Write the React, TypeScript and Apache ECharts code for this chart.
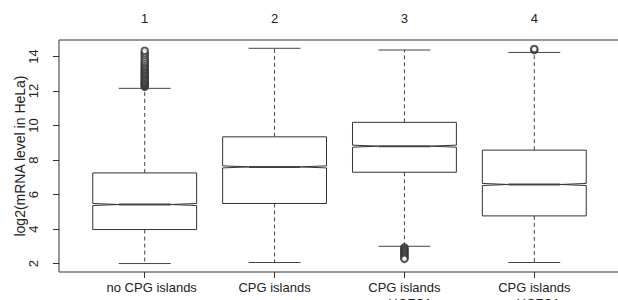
import React, { useEffect, useRef } from "react";
import * as echarts from "echarts";

const categories = ["no CPG islands", "CPG islands", "CPG islands\n+ HCFC1", "CPG islands\n- HCFC1"];
const topLabels = ["1", "2", "3", "4"];
// [lower whisker, Q1, median, Q3, upper whisker]
const box1 = [2.01, 3.98, 5.43, 7.26, 12.16];
const box2 = [2.07, 5.49, 7.61, 9.35, 14.48];
const box3 = [3.01, 7.3, 8.81, 10.19, 14.38];
const box4 = [2.07, 4.77, 6.59, 8.58, 14.24];
const outliers1 = [12.25, 12.3, 12.36, 12.42, 12.48, 12.55, 12.62, 12.7, 12.78, 12.85, 12.93, 13.0, 13.08, 13.16, 13.24, 13.32, 13.41, 13.5, 13.6, 13.7, 13.82, 13.95, 14.08, 14.2, 14.34];
const outliers3 = [2.95, 2.88, 2.8, 2.72, 2.65, 2.58, 2.5, 2.42, 2.35, 2.28];
const outliers4 = [14.38, 14.44];
const yTicks = [2, 4, 6, 8, 10, 12, 14];

const FONT = "'Liberation Sans', Arial, Helvetica, sans-serif";
const LINE = "#333";

export default function App() {
  const ref = useRef<HTMLDivElement>(null);
  useEffect(() => {
    document.body.style.margin = "0";
    const chart = echarts.init(ref.current!, null, { renderer: "svg" });
    const boxes = [box1, box2, box3, box4];
    const boxData = boxes.map((b, i) => [i + 1, ...b]);
    const outData: number[][] = [];
    outliers1.forEach((v) => outData.push([1, v]));
    outliers3.forEach((v) => outData.push([3, v]));
    outliers4.forEach((v) => outData.push([4, v]));
    const hw = 0.4;
    const nw = 0.2;
    const nh = 0.06;
    const capw = 0.2;
    chart.setOption({
      animation: false,
      grid: {
        left: 59, top: 40, right: -2, bottom: 28,
        outerBoundsMode: "none", containLabel: false,
        show: true, borderColor: LINE, borderWidth: 1,
      },
      xAxis: [
        {
          type: "value",
          min: 0.34,
          max: 4.66,
          position: "bottom",
          splitLine: { show: false },
          axisLine: { show: false },
          axisTick: { show: true, length: 6, lineStyle: { color: LINE }, customValues: [1, 2, 3, 4] },
          axisLabel: {
            customValues: [1, 2, 3, 4],
            formatter: (v: number) => {
              const i = Math.round(v) - 1;
              return i === 0 ? "{p|" + categories[0] + "}" : categories[i];
            },
            fontFamily: FONT,
            fontSize: 13,
            color: "#222",
            lineHeight: 16,
            margin: 7,
            verticalAlign: "top",
            rich: {
              p: { fontFamily: FONT, fontSize: 13, color: "#222", lineHeight: 16, padding: [0, 0, 0, 14] },
            },
          },
        },
        {
          type: "value",
          min: 0.34,
          max: 4.66,
          position: "top",
          splitLine: { show: false },
          axisLine: { show: false },
          axisTick: { show: false },
          axisLabel: {
            customValues: [1, 2, 3, 4],
            formatter: (v: number) => topLabels[Math.round(v) - 1],
            fontFamily: FONT,
            fontSize: 13,
            color: "#222",
            margin: 15,
          },
        },
      ],
      yAxis: {
        type: "value",
        min: 1.52,
        max: 14.96,
        splitLine: { show: false },
        axisLine: { show: false },
        axisTick: { show: true, length: 6, lineStyle: { color: LINE }, customValues: yTicks },
        axisLabel: {
          customValues: yTicks,
          rotate: 90,
          fontFamily: FONT,
          fontSize: 13,
          color: "#222",
          margin: 19,
        },
        name: "log2(mRNA level in HeLa)",
        nameLocation: "middle",
        nameGap: 32,
        nameMoveOverlap: false,
        nameTextStyle: { fontFamily: FONT, fontSize: 14, color: "#222" },
      },
      series: [
        {
          type: "custom",
          xAxisIndex: 0,
          data: boxData,
          renderItem: (params: any, api: any) => {
            const x = api.value(0);
            const lo = api.value(1), q1 = api.value(2), med = api.value(3), q3 = api.value(4), hi = api.value(5);
            const p = (a: number, b: number) => api.coord([a, b]);
            const poly = [
              p(x - hw, q1), p(x - hw, med - nh), p(x - nw, med), p(x - hw, med + nh), p(x - hw, q3),
              p(x + hw, q3), p(x + hw, med + nh), p(x + nw, med), p(x + hw, med - nh), p(x + hw, q1),
            ];
            const seg = (a: number[], b: number[], dashed: boolean, w = 1, c = LINE) => ({
              type: "line",
              shape: { x1: a[0], y1: a[1], x2: b[0], y2: b[1] },
              style: { stroke: c, lineWidth: w, lineDash: dashed ? [4, 3] : null },
            });
            return {
              type: "group",
              children: [
                seg(p(x, q3), p(x, hi), true, 1, "#444"),
                seg(p(x, q1), p(x, lo), true, 1, "#444"),
                seg(p(x - capw, hi), p(x + capw, hi), false, 1, "#444"),
                seg(p(x - capw, lo), p(x + capw, lo), false, 1, "#444"),
                { type: "polygon", shape: { points: poly }, style: { fill: "#fff", stroke: LINE, lineWidth: 1 } },
                seg(p(x - nw, med), p(x + nw, med), false, 2, "#444"),
              ],
            };
          },
        },
        {
          type: "scatter",
          xAxisIndex: 0,
          data: outData,
          symbol: "emptyCircle",
          symbolSize: 6.5,
          itemStyle: { color: LINE, borderColor: LINE, borderWidth: 1 },
        },
      ],
    });
    return () => chart.dispose();
  }, []);
  return <div ref={ref} style={{ width: 618, height: 300, position: "absolute", left: 0, top: 0 }} />;
}
